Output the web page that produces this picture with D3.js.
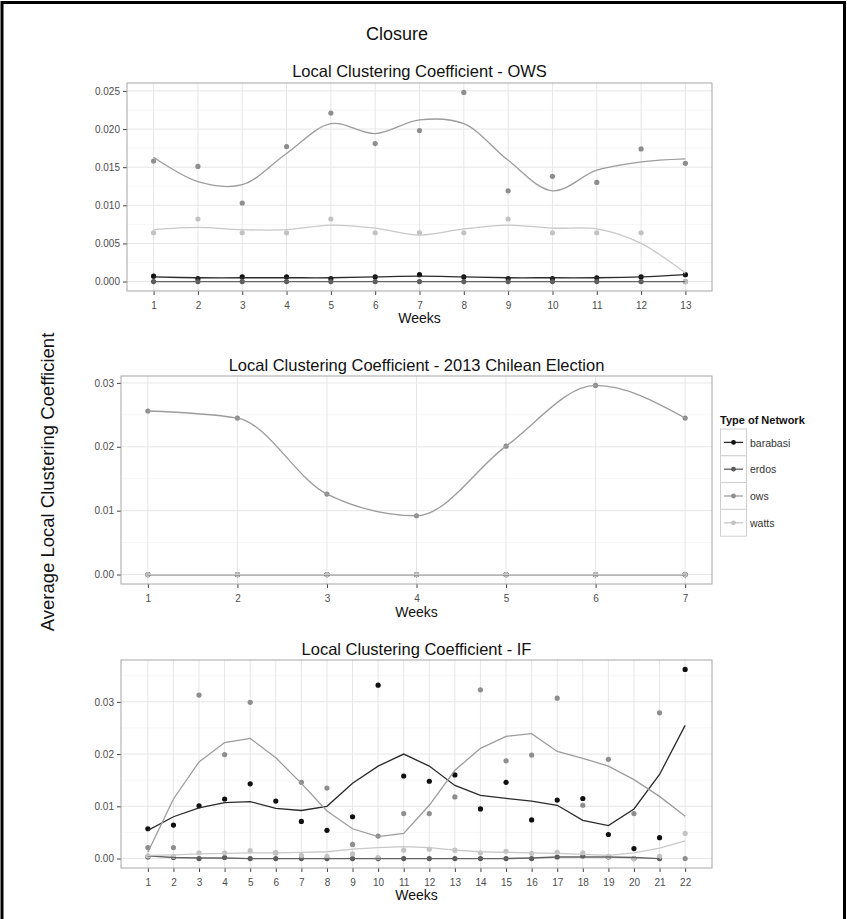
<!DOCTYPE html>
<html>
<head>
<meta charset="utf-8">
<script src="https://cdn.jsdelivr.net/npm/d3@7"></script>
<style>
  body { margin: 0; background: #fff; }
  svg { display: block; font-family: "Liberation Sans", Arial, Helvetica, sans-serif; }
</style>
</head>
<body>
<div id="chart"></div>
<script>
// ---- data ----
const networks = ['barabasi', 'erdos', 'ows', 'watts'];

// OWS, 13 weeks
const owsWeeks = d3.range(1, 14);
const owsBarabasi = [0.0007, 0.0004, 0.0006, 0.0006, 0.0004, 0.0006, 0.0009, 0.0006, 0.0004, 0.0004, 0.0005, 0.0006, 0.0009];
const owsErdos = [0, 0, 0, 0, 0, 0, 0, 0, 0, 0, 0, 0, 0];
const owsOws = [0.0158, 0.0151, 0.0103, 0.0177, 0.0221, 0.0181, 0.0198, 0.0248, 0.0119, 0.0138, 0.0130, 0.0174, 0.0155];
const owsWatts = [0.0064, 0.0082, 0.0064, 0.0064, 0.0082, 0.0064, 0.0064, 0.0064, 0.0082, 0.0064, 0.0064, 0.0064, 0.0000];
// smoothed curves
const owsBarabasiFit = [0.0006, 0.0005, 0.0005, 0.0005, 0.0005, 0.0006, 0.0007, 0.0006, 0.0005, 0.0005, 0.0005, 0.0006, 0.0009];
const owsErdosFit = [0, 0, 0, 0, 0, 0, 0, 0, 0, 0, 0, 0, 0];
const owsOwsFit = [0.0163, 0.0131, 0.0127, 0.0168, 0.0207, 0.0194, 0.0212, 0.0207, 0.0159, 0.0119, 0.0146, 0.0157, 0.0161];
const owsWattsFit = [0.0068, 0.0071, 0.0068, 0.0068, 0.0074, 0.0070, 0.0061, 0.0069, 0.0074, 0.0070, 0.0069, 0.0050, 0.0011];

// 2013 Chilean Election, 7 weeks
const chileWeeks = d3.range(1, 8);
const chileBarabasi = [0, 0, 0, 0, 0, 0, 0];
const chileErdos = [0, 0, 0, 0, 0, 0, 0];
const chileOws = [0.0256, 0.0245, 0.0126, 0.0092, 0.0201, 0.0296, 0.0245];
const chileWatts = [0, 0, 0, 0, 0, 0, 0];

// IF, 22 weeks
const ifWeeks = d3.range(1, 23);
const ifBarabasi = [0.0057, 0.0064, 0.0101, 0.0114, 0.0143, 0.0110, 0.0071, 0.0054, 0.0080, 0.0332, 0.0158, 0.0148, 0.0160, 0.0095, 0.0146, 0.0074, 0.0112, 0.0115, 0.0046, 0.0019, 0.0040, 0.0362];
const ifErdos = [0.0003, 0.0002, 0, 0.0002, 0, 0, 0, 0, 0, 0, 0, 0, 0, 0, 0, 0, 0.0003, 0.0005, 0.0003, 0, 0, null];
const ifOws = [0.0021, 0.0021, 0.0313, 0.0199, 0.0299, 0.0011, 0.0146, 0.0135, 0.0027, 0.0043, 0.0086, 0.0086, 0.0118, 0.0323, 0.0187, 0.0198, 0.0307, 0.0102, 0.0190, 0.0086, 0.0279, 0];
const ifWatts = [0.0005, 0.0004, 0.0011, 0.0011, 0.0015, 0.0011, 0.0006, 0.0004, 0.0009, 0.0002, 0.0016, 0.0018, 0.0016, 0.0011, 0.0014, 0.0010, 0.0012, 0.0011, 0.0004, 0.0000, 0.0004, 0.0048];
const ifBarabasiFit = [0.0054, 0.0080, 0.0097, 0.0107, 0.0109, 0.0096, 0.0092, 0.0100, 0.0144, 0.0177, 0.0200, 0.0177, 0.0140, 0.0121, 0.0115, 0.0110, 0.0102, 0.0073, 0.0063, 0.0095, 0.0161, 0.0255];
const ifErdosFit = [0.0005, 0.0002, 0.0001, 0.0001, 0, 0, 0, 0, 0, 0, 0, 0, 0, 0, 0, 0.0001, 0.0003, 0.0003, 0.0003, 0.0002, 0, null];
const ifOwsFit = [0.0012, 0.0114, 0.0185, 0.0222, 0.0230, 0.0193, 0.0144, 0.0091, 0.0057, 0.0042, 0.0048, 0.0102, 0.0169, 0.0211, 0.0234, 0.0239, 0.0205, 0.0192, 0.0177, 0.0151, 0.0119, 0.0081];
const ifWattsFit = [0.0006, 0.0007, 0.0009, 0.0010, 0.0011, 0.0011, 0.0012, 0.0013, 0.0018, 0.0021, 0.0023, 0.0021, 0.0016, 0.0013, 0.0012, 0.0011, 0.0010, 0.0008, 0.0006, 0.0011, 0.0020, 0.0034];

const owsTicks = [0, 0.005, 0.01, 0.015, 0.02, 0.025];
const otherTicks = [0, 0.01, 0.02, 0.03];

// ---- layout / styles ----
const W = 847, H = 919;
const colour = d3.scaleOrdinal().domain(networks).range(['#101010', '#5a5a5a', '#8e8e8e', '#c2c2c2']);
const lineColour = d3.scaleOrdinal().domain(networks).range(['#2a2a2a', '#636363', '#9c9c9c', '#c8c8c8']);

const svg = d3.select('#chart').append('svg').attr('width', W).attr('height', H);

// outer frame (open at the bottom)
svg.append('path')
  .attr('d', `M2,${H} L2,2.5 L844.5,2.5 L844.5,${H}`)
  .attr('fill', 'none').attr('stroke', '#000').attr('stroke-width', 3);

svg.append('text').attr('x', 397).attr('y', 40).attr('text-anchor', 'middle')
  .attr('font-size', 18).attr('fill', '#111').text('Closure');

svg.append('text')
  .attr('transform', 'translate(54,482) rotate(-90)')
  .attr('text-anchor', 'middle').attr('font-size', 18.5).attr('fill', '#111')
  .text('Average Local Clustering Coefficient');

const panels = [
  { title: 'Local Clustering Coefficient - OWS', weeks: owsWeeks,
    points: [owsBarabasi, owsErdos, owsOws, owsWatts],
    fits: [owsBarabasiFit, owsErdosFit, owsOwsFit, owsWattsFit],
    curve: d3.curveCatmullRom, ticks: owsTicks, fmt: d3.format('.3f'),
    box: { x0: 127, x1: 712, y0: 83, y1: 291 }, titleY: 77, labelY: 323 },
  { title: 'Local Clustering Coefficient - 2013 Chilean Election', weeks: chileWeeks,
    points: [chileBarabasi, chileErdos, chileOws, chileWatts],
    fits: [chileBarabasi, chileErdos, chileOws, chileWatts],
    curve: d3.curveMonotoneX, ticks: otherTicks, fmt: d3.format('.2f'),
    box: { x0: 121, x1: 712, y0: 376, y1: 584 }, titleY: 371, labelY: 617 },
  { title: 'Local Clustering Coefficient - IF', weeks: ifWeeks,
    points: [ifBarabasi, ifErdos, ifOws, ifWatts],
    fits: [ifBarabasiFit, ifErdosFit, ifOwsFit, ifWattsFit],
    curve: d3.curveLinear, ticks: otherTicks, fmt: d3.format('.2f'),
    box: { x0: 121, x1: 712, y0: 660, y1: 868 }, titleY: 655, labelY: 900 }
];

panels.forEach(p => {
  const b = p.box;
  const xExt = d3.extent(p.weeks);
  const xPad = (xExt[1] - xExt[0]) * 0.05;
  const all = p.points.flat().filter(v => v != null);
  const yExt = d3.extent(all);
  const yPad = (yExt[1] - yExt[0]) * 0.05;

  const x = d3.scaleLinear().domain([xExt[0] - xPad, xExt[1] + xPad]).range([b.x0, b.x1]);
  const y = d3.scaleLinear().domain([yExt[0] - yPad, yExt[1] + yPad]).range([b.y1, b.y0]);

  const g = svg.append('g');
  g.append('rect').attr('x', b.x0).attr('y', b.y0).attr('width', b.x1 - b.x0).attr('height', b.y1 - b.y0)
    .attr('fill', '#fff');

  // minor y grid
  const step = p.ticks[1] - p.ticks[0];
  const minor = p.ticks.map(t => t + step / 2).filter(t => y(t) > b.y0);
  g.selectAll('.ymin').data(minor).join('line')
    .attr('x1', b.x0).attr('x2', b.x1).attr('y1', d => y(d)).attr('y2', d => y(d))
    .attr('stroke', '#f4f4f4').attr('stroke-width', 0.8);
  // major grid
  g.selectAll('.ymaj').data(p.ticks).join('line')
    .attr('x1', b.x0).attr('x2', b.x1).attr('y1', d => y(d)).attr('y2', d => y(d))
    .attr('stroke', '#e6e6e6').attr('stroke-width', 1);
  g.selectAll('.xmaj').data(p.weeks).join('line')
    .attr('y1', b.y0).attr('y2', b.y1).attr('x1', d => x(d)).attr('x2', d => x(d))
    .attr('stroke', '#e6e6e6').attr('stroke-width', 1);

  // axes
  const xAxis = g.append('g').attr('transform', `translate(0,${b.y1})`)
    .call(d3.axisBottom(x).tickValues(p.weeks).tickFormat(d3.format('d')).tickSize(4).tickSizeOuter(0));
  const yAxis = g.append('g').attr('transform', `translate(${b.x0},0)`)
    .call(d3.axisLeft(y).tickValues(p.ticks).tickFormat(p.fmt).tickSize(4).tickSizeOuter(0));
  [xAxis, yAxis].forEach(a => {
    a.select('.domain').remove();
    a.selectAll('line').attr('stroke', '#444');
    a.selectAll('text').attr('fill', '#4d4d4d').attr('font-size', 10).attr('font-family', null);
  });
  xAxis.selectAll('text').attr('dy', '1.05em');

  // points, then smoothed lines
  const line = d3.line().defined(d => d.v != null).x(d => x(d.w)).y(d => y(d.v)).curve(p.curve);
  networks.forEach((n, i) => {
    const pts = p.weeks.map((w, j) => ({ w, v: p.points[i][j] }));
    g.selectAll(null).data(pts.filter(d => d.v != null)).join('circle')
      .attr('cx', d => x(d.w)).attr('cy', d => y(d.v)).attr('r', 2.6)
      .attr('fill', colour(n));
  });
  networks.forEach((n, i) => {
    const fit = p.weeks.map((w, j) => ({ w, v: p.fits[i][j] }));
    g.append('path').datum(fit).attr('d', line)
      .attr('fill', 'none').attr('stroke', lineColour(n)).attr('stroke-width', 1.3);
  });

  g.append('rect').attr('x', b.x0).attr('y', b.y0).attr('width', b.x1 - b.x0).attr('height', b.y1 - b.y0)
    .attr('fill', 'none').attr('stroke', '#a6a6a6').attr('stroke-width', 1);

  svg.append('text').attr('x', (b.x0 + b.x1) / 2).attr('y', p.titleY).attr('text-anchor', 'middle')
    .attr('font-size', 16.5).attr('fill', '#111').text(p.title);
  svg.append('text').attr('x', (b.x0 + b.x1) / 2).attr('y', p.labelY).attr('text-anchor', 'middle')
    .attr('font-size', 14).attr('fill', '#111').text('Weeks');
});

// legend
const lg = svg.append('g').attr('transform', 'translate(720,0)');
lg.append('text').attr('x', 0).attr('y', 424).attr('font-size', 11).attr('font-weight', 'bold')
  .attr('fill', '#111').text('Type of Network');
networks.forEach((n, i) => {
  const y0 = 429 + i * 26.8;
  lg.append('rect').attr('x', 0.5).attr('y', y0).attr('width', 26).attr('height', 26.8)
    .attr('fill', '#fff').attr('stroke', '#cfcfcf').attr('stroke-width', 1);
  lg.append('line').attr('x1', 4).attr('x2', 23).attr('y1', y0 + 13.4).attr('y2', y0 + 13.4)
    .attr('stroke', lineColour(n)).attr('stroke-width', 1.3);
  lg.append('circle').attr('cx', 13.5).attr('cy', y0 + 13.4).attr('r', 2.4).attr('fill', colour(n));
  lg.append('text').attr('x', 30).attr('y', y0 + 17.5).attr('font-size', 10.5).attr('fill', '#333').text(n);
});
</script>
</body>
</html>
